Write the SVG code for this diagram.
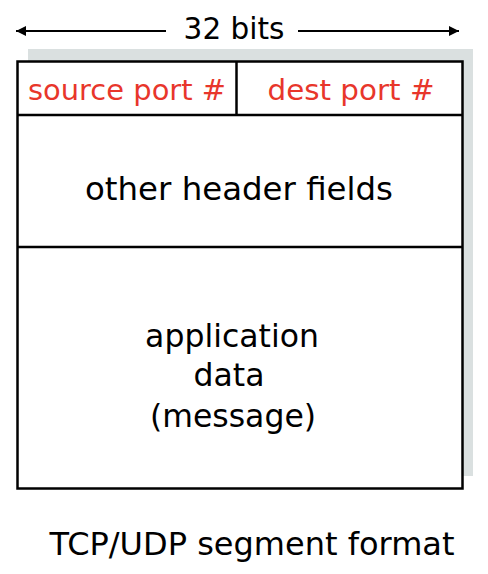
<svg xmlns="http://www.w3.org/2000/svg" width="488" height="574" viewBox="0 0 488 574">
<defs>
<style>
text{font-family:"DejaVu Sans","Liberation Sans",sans-serif;text-anchor:middle}
.blk{fill:#000}
.red{fill:#e8362b}
.box{fill:#fff;stroke:#000;stroke-width:2.5}
.line{stroke:#000;stroke-width:2.5;fill:none}
.arr{stroke:#000;stroke-width:2;fill:none}
</style>
<marker id="ah" viewBox="0 0 10 10" refX="10" refY="5" markerWidth="11" markerHeight="10" markerUnits="userSpaceOnUse" orient="auto-start-reverse">
<path d="M0,0 L10,5 L0,10 z" fill="#000"/>
</marker>
</defs>
<g id="width-label">
<text class="blk" x="234" y="39" font-size="29.5">32 bits</text>
</g>
<g id="connectors">
<line class="arr" x1="166" y1="31" x2="16" y2="31" marker-end="url(#ah)"/>
<line class="arr" x1="298" y1="31" x2="459" y2="31" marker-end="url(#ah)"/>
</g>
<g id="segment">
<rect x="28" y="49" width="445" height="427" fill="#dae0e0"/>
<rect class="box" x="17.5" y="61.5" width="445" height="427"/>
<line class="line" x1="17.5" y1="115" x2="462.5" y2="115"/>
<line class="line" x1="236.5" y1="61.5" x2="236.5" y2="115"/>
<line class="line" x1="17.5" y1="247" x2="462.5" y2="247"/>
</g>
<g id="source-port">
<text class="red" x="127" y="100" font-size="28.5" textLength="198" lengthAdjust="spacingAndGlyphs">source port #</text>
</g>
<g id="dest-port">
<text class="red" x="351" y="100" font-size="29" textLength="167" lengthAdjust="spacingAndGlyphs">dest port #</text>
</g>
<g id="other-header">
<text class="blk" x="239" y="200" font-size="32.5" textLength="308" lengthAdjust="spacingAndGlyphs">other header fields</text>
</g>
<g id="app-data">
<text class="blk" x="232" y="347" font-size="31.5">application</text>
<text class="blk" x="229" y="386" font-size="31.5">data</text>
<text class="blk" x="233" y="427" font-size="31.5">(message)</text>
</g>
<g id="caption">
<text class="blk" x="252" y="555" font-size="32.5" textLength="405" lengthAdjust="spacingAndGlyphs">TCP/UDP segment format</text>
</g>
</svg>
